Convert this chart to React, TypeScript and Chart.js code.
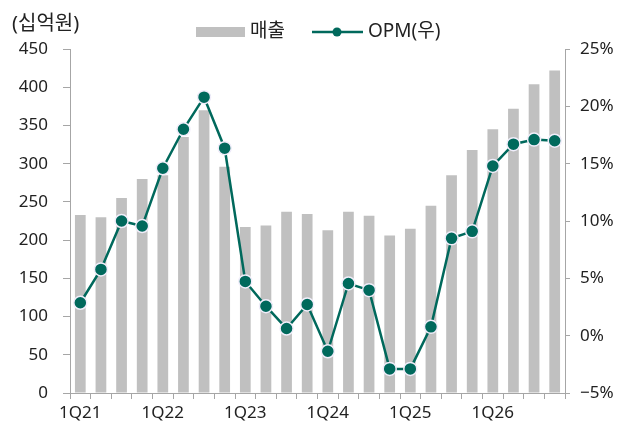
import React, { useEffect, useRef } from "react";
import { Chart, registerables } from "chart.js";

Chart.register(...registerables);

const quarters = [
  "1Q21", "2Q21", "3Q21", "4Q21",
  "1Q22", "2Q22", "3Q22", "4Q22",
  "1Q23", "2Q23", "3Q23", "4Q23",
  "1Q24", "2Q24", "3Q24", "4Q24",
  "1Q25", "2Q25", "3Q25", "4Q25",
  "1Q26", "2Q26", "3Q26", "4Q26",
];

const sales = [233, 230, 255, 280, 285, 335, 370, 296, 217, 219, 237, 234, 213, 237, 232, 206, 215, 245, 285, 318, 345, 372, 404, 422];

const opm = [2.87, 5.78, 10.0, 9.56, 14.6, 18.0, 20.8, 16.35, 4.73, 2.57, 0.62, 2.72, -1.36, 4.55, 3.97, -2.9, -2.9, 0.77, 8.49, 9.1, 14.8, 16.7, 17.1, 17.0];

const leftTicks = { min: 0, max: 450, step: 50 };
const rightTicks = { min: -5, max: 25, step: 5 };

const salesLabel = "매출";
const opmLabel = "OPM(우)";
const unitLabel = "(십억원)";

const TEAL = "#00695c";
const BAR = "#c0c0c0";
const AXIS = "#a6a6a6";
const TEXT = "#222222";
const FONT_FAMILY = '"Noto Sans", "Noto Sans CJK KR", sans-serif';

const overlayPlugin = {
  id: "overlay",
  afterDraw(chart: any) {
    const ctx = chart.ctx as CanvasRenderingContext2D;
    ctx.save();
    ctx.textBaseline = "middle";
    ctx.textAlign = "left";
    ctx.fillStyle = TEXT;
    ctx.font = `20px ${FONT_FAMILY}`;
    ctx.fillText(unitLabel, 12, 24);

    ctx.font = `19px ${FONT_FAMILY}`;
    // legend: bars
    ctx.fillStyle = BAR;
    ctx.fillRect(196, 27, 49, 10);
    ctx.fillStyle = TEXT;
    ctx.fillText(salesLabel, 250, 32);

    // legend: line
    ctx.strokeStyle = TEAL;
    ctx.lineWidth = 2.5;
    ctx.beginPath();
    ctx.moveTo(312, 32);
    ctx.lineTo(363, 32);
    ctx.stroke();
    ctx.beginPath();
    ctx.arc(337, 32, 4.5, 0, Math.PI * 2);
    ctx.fillStyle = TEAL;
    ctx.fill();
    ctx.fillStyle = TEXT;
    ctx.fillText(opmLabel, 368, 32);
    ctx.restore();
  },
};

export default function App() {
  const ref = useRef<HTMLCanvasElement | null>(null);

  useEffect(() => {
    if (!ref.current) return;
    const font = { family: FONT_FAMILY, size: 17 };
    const chart = new Chart(ref.current, {
      type: "bar",
      data: {
        labels: quarters,
        datasets: [
          {
            type: "line",
            label: opmLabel,
            data: opm,
            yAxisID: "y1",
            borderColor: TEAL,
            borderWidth: 2.5,
            pointRadius: 6.5,
            pointHoverRadius: 6.5,
            pointBackgroundColor: TEAL,
            pointBorderColor: "#f1eefb",
            pointBorderWidth: 1.5,
            tension: 0,
            order: 0,
          } as any,
          {
            type: "bar",
            label: salesLabel,
            data: sales,
            yAxisID: "y",
            backgroundColor: BAR,
            borderWidth: 0,
            categoryPercentage: 1,
            barPercentage: 0.52,
            order: 1,
          },
        ],
      },
      options: {
        responsive: false,
        maintainAspectRatio: false,
        animation: false,
        devicePixelRatio: 1,
        layout: { padding: { top: 49, left: 0, right: 0, bottom: 0 } },
        plugins: {
          legend: { display: false },
          tooltip: { enabled: false },
        },
        scales: {
          x: {
            offset: true,
            grid: { drawOnChartArea: false, color: AXIS, tickLength: 6, offset: true },
            border: { color: AXIS },
            ticks: {
              autoSkip: false,
              maxRotation: 0,
              minRotation: 0,
              padding: 4,
              color: TEXT,
              font,
              callback: (_v: any, i: number) => (i % 4 === 0 ? quarters[i] : ""),
            },
            afterFit: (s: any) => {
              s.height = 30;
            },
          },
          y: {
            position: "left",
            min: leftTicks.min,
            max: leftTicks.max,
            grid: { drawOnChartArea: false, color: AXIS, tickLength: 7 },
            border: { color: AXIS },
            ticks: { stepSize: leftTicks.step, padding: 15, color: TEXT, font },
            afterFit: (s: any) => {
              s.width = 70;
            },
          },
          y1: {
            position: "right",
            min: rightTicks.min,
            max: rightTicks.max,
            grid: { drawOnChartArea: false, color: AXIS, tickLength: 5 },
            border: { color: AXIS },
            ticks: {
              stepSize: rightTicks.step,
              padding: 10,
              color: TEXT,
              font,
              callback: (v: any) => (Number(v) < 0 ? "−" + Math.abs(Number(v)) : String(v)) + "%",
            },
            afterFit: (s: any) => {
              s.width = 70;
            },
          },
        },
      },
      plugins: [overlayPlugin],
    });
    return () => chart.destroy();
  }, []);

  return (
    <div style={{ position: "fixed", left: 0, top: 0, width: 635, height: 423, background: "#fff" }}>
      <canvas ref={ref} width={635} height={423} style={{ width: 635, height: 423 }} />
    </div>
  );
}
